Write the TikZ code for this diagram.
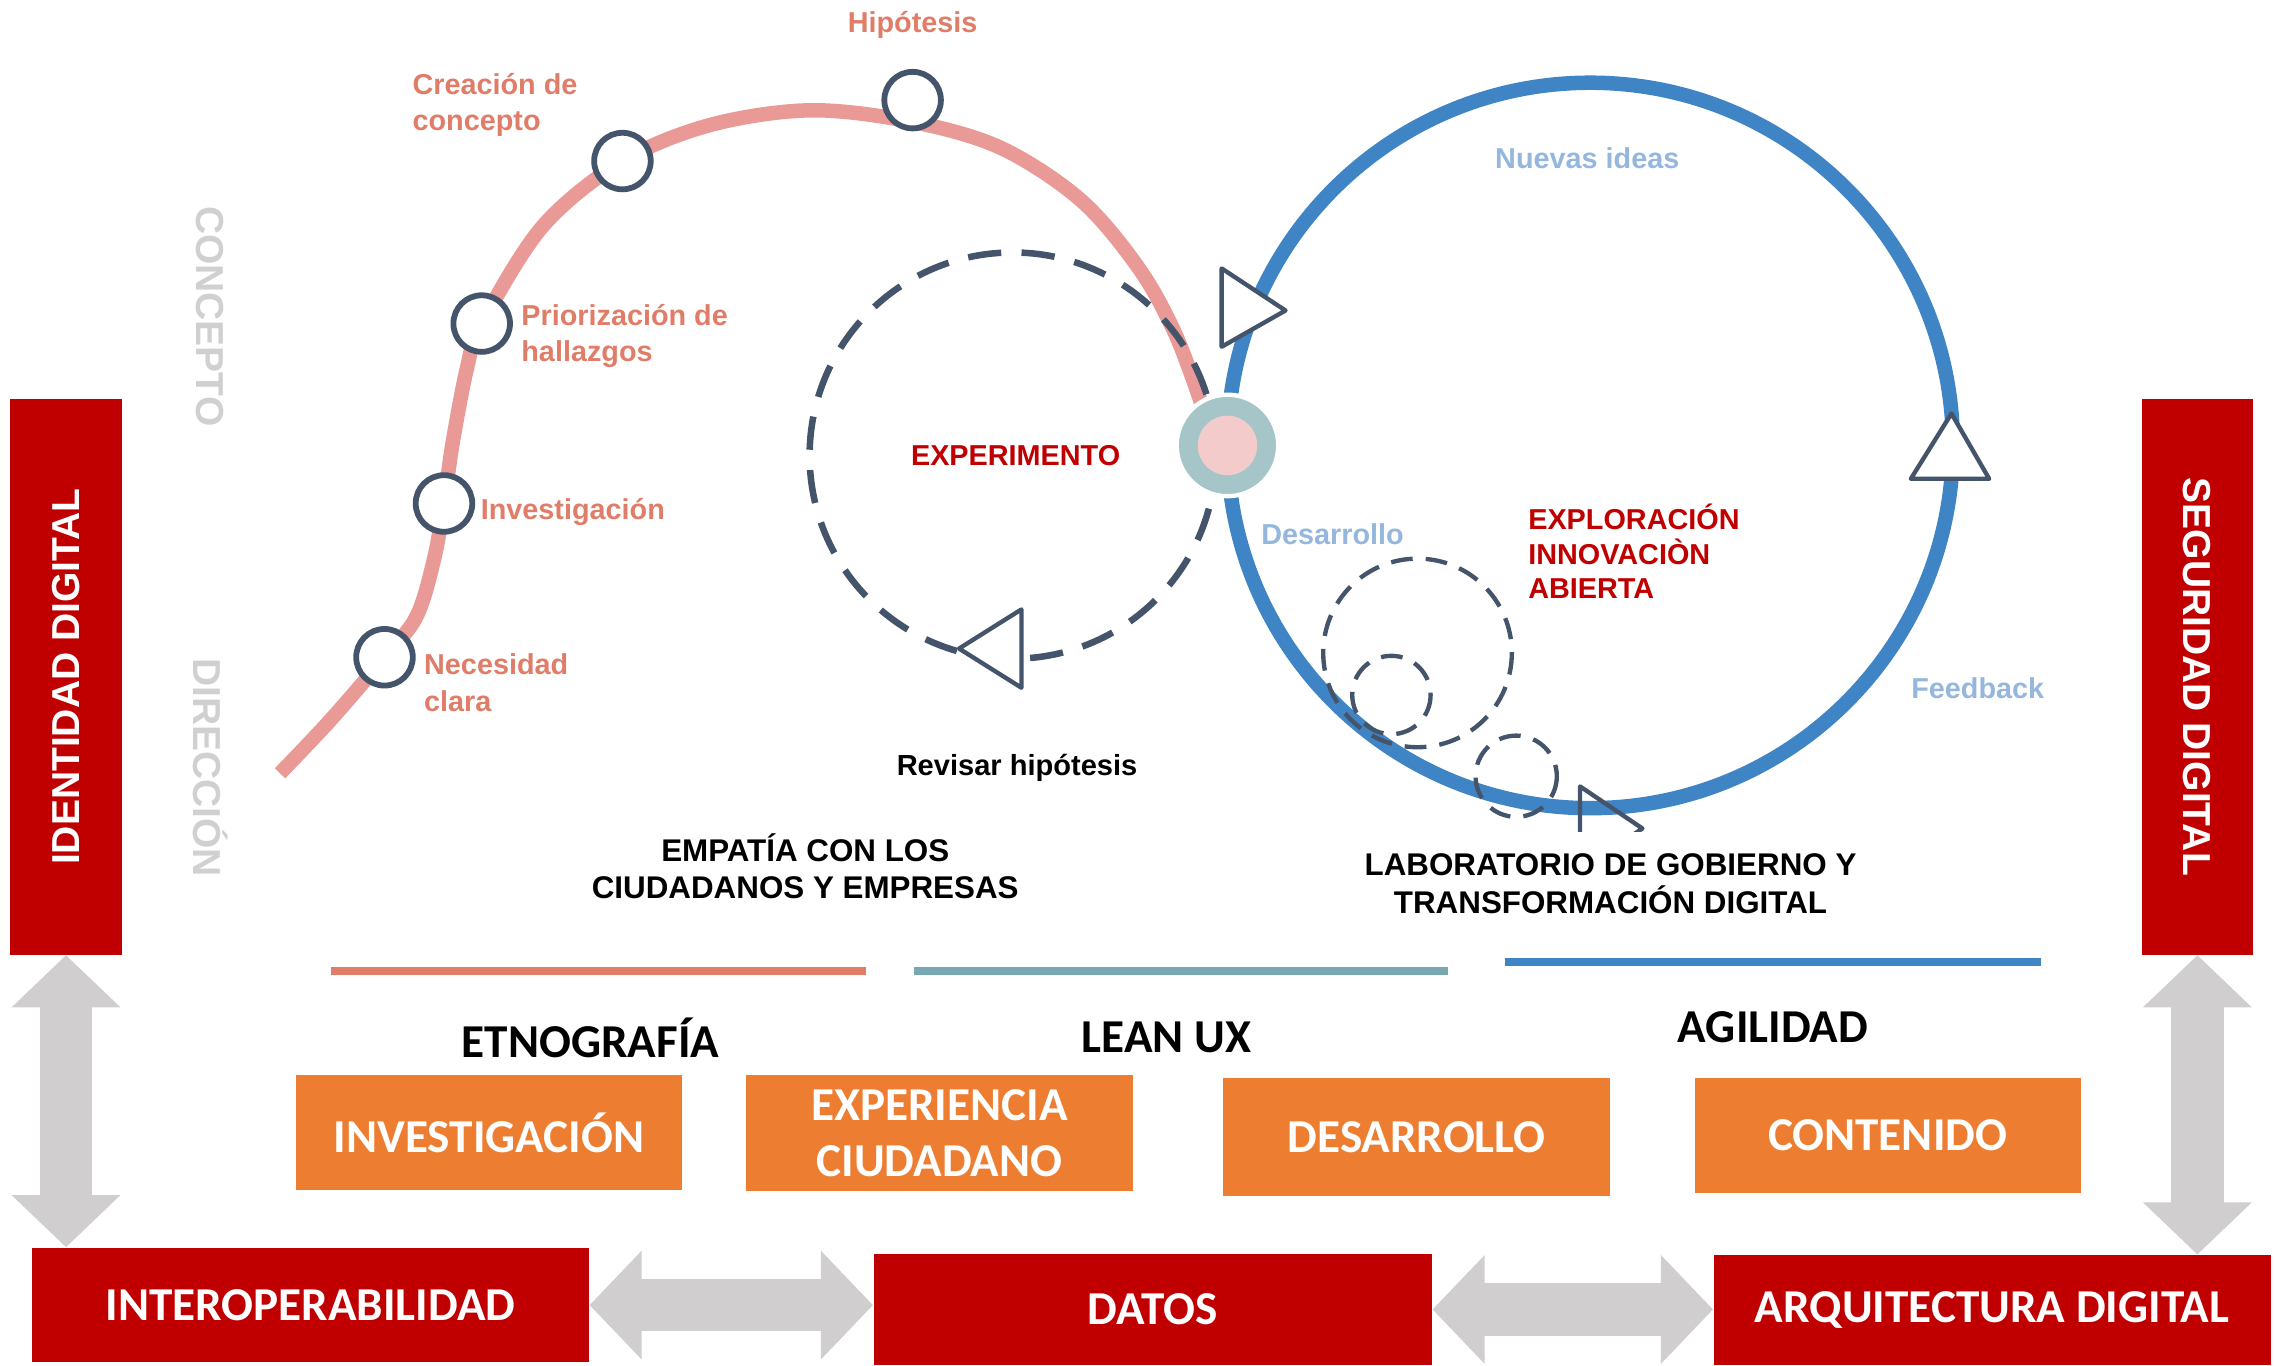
\documentclass[tikz,border=0pt]{standalone}
\usepackage{fontspec}
\setmainfont{Liberation Sans}
\newfontfamily\calib{Carlito}
\usetikzlibrary{arrows.meta}

\definecolor{rojo}{HTML}{C00000}
\definecolor{naranja}{HTML}{ED7D31}
\definecolor{gris}{HTML}{D0CECE}
\definecolor{grisclaro}{HTML}{D0D0D0}
\definecolor{salmon}{HTML}{E07D68}
\definecolor{rosa}{HTML}{E99A97}
\definecolor{azul}{HTML}{3F84C5}
\definecolor{azulclaro}{HTML}{95B7DD}
\definecolor{pizarra}{HTML}{44546A}
\definecolor{verdeazul}{HTML}{78A8B1}
\definecolor{nodoext}{HTML}{A6C5C8}
\definecolor{nodoint}{HTML}{F3CBCB}

\newcommand\fuente[2]{\fontsize{#1}{#2}\selectfont}

\tikzset{
  barra/.style={fill=rojo, text=white, font=\bfseries\fuente{15.3}{18}, inner sep=0},
  base/.style={fill=rojo, text=white, font=\calib\bfseries\fuente{18.5}{22}, inner sep=0},
  caja/.style={fill=naranja, text=white, font=\calib\bfseries\fuente{18.5}{22.1}, align=center, inner sep=0},
  seccion/.style={font=\calib\bfseries\fuente{18.5}{22}, inner sep=0},
  paso/.style={circle, draw=pizarra, fill=white, line width=0.08cm, minimum size=0.78cm, inner sep=0},
  etpaso/.style={text=salmon, font=\bfseries\fuente{11.3}{14.2}, align=left, inner sep=0},
  etazul/.style={text=azulclaro, font=\bfseries\fuente{11.3}{14}, inner sep=0},
  etrojo/.style={text=rojo, font=\bfseries\fuente{11.3}{13.6}, align=left, inner sep=0},
  etnegro/.style={font=\bfseries\fuente{12.3}{14.7}, align=center, inner sep=0},
  etgris/.style={text=grisclaro, font=\bfseries\fuente{15.3}{18}, rotate=-90, inner sep=0},
  flecha/.style={draw=gris, line width=0.72cm, {Triangle[length=0.72cm,width=1.46cm]}-{Triangle[length=0.72cm,width=1.46cm]}},
  punta/.style={draw=pizarra, fill=white, line width=0.06cm, line join=round},
  discont/.style={draw=pizarra, line width=0.09cm, dash pattern=on 0.46cm off 0.28cm},
  discontfino/.style={draw=pizarra, line width=0.06cm, dash pattern=on 0.3cm off 0.18cm},
}

\begin{document}
\begin{tikzpicture}[x=0.02cm, y=-0.02cm]
\useasboundingbox (0,0) rectangle (1568,941);

\draw[rosa, line width=0.2cm] plot[smooth, tension=0.55] coordinates {(193,533) (228,496) (265,453) (287,425) (299,386) (306,347) (312,305) (322,253) (332,223) (374,156) (429,111) (490,86) (559,76) (629,84) (690,102) (745,138) (785,185) (810,230) (828,278)};

\draw[azul, line width=0.2cm] (1096,307) circle[radius=250];

\draw[discont] (698,314) circle[radius=140];
\draw[discontfino] (977,450) circle[radius=65];
\draw[discontfino] (959,479) circle[radius=27];
\draw[discontfino] (1045,535) circle[radius=28];

\draw[punta] (842,185) -- (886,214) -- (842,239) -- cycle;
\draw[punta] (1317,330) -- (1371,330) -- (1345,285) -- cycle;
\draw[punta] (704,420) -- (661,447) -- (704,474) -- cycle;
\begin{scope}
\clip (1050,500) rectangle (1200,573);
\draw[punta, fill=none] (1089,542) -- (1132,571) -- (1089,600) -- cycle;
\end{scope}

\node[circle, fill=nodoext, draw=white, line width=0.06cm, minimum size=1.4cm, inner sep=0] (hub) at (846,307) {};
\node[circle, fill=nodoint, minimum size=0.82cm, inner sep=0] (hubint) at (hub) {};

\foreach \n/\x/\y in {nec/265/453, inv/306/347, pri/332/223, cre/429/111, hip/629/69}
  \node[paso] (\n) at (\x,\y) {};

\node[etpaso] (thip) at (629,17) {Hipótesis};
\node[etpaso, anchor=west] (tcre) at (284,72.5) {Creación de\\concepto};
\node[etpaso, anchor=west] (tpri) at (359,231.5) {Priorización de\\hallazgos};
\node[etpaso, anchor=west] (tinv) at (331,353) {Investigación};
\node[etpaso, anchor=west] (tnec) at (292,470.5) {Necesidad\\clara};

\node[etazul] (tnue) at (1094,109) {Nuevas ideas};
\node[etazul, anchor=west] (tdes) at (869,368) {Desarrollo};
\node[etazul, anchor=west] (tfee) at (1317,474) {Feedback};

\node[etrojo] (texp) at (700,314) {EXPERIMENTO};
\node[etrojo, anchor=west] (texplo) at (1053,380) {EXPLORACIÓN\\INNOVACIÒN\\ABIERTA};

\node[etnegro, font=\bfseries\fuente{11.4}{14}] (trev) at (701,529) {Revisar hipótesis};
\node[etnegro] (temp) at (555,597) {EMPATÍA CON LOS\\CIUDADANOS Y EMPRESAS};
\node[etnegro] (tlab) at (1110,609) {LABORATORIO DE GOBIERNO Y\\TRANSFORMACIÓN DIGITAL};

\node[etgris] (tcon) at (145,218) {CONCEPTO};
\node[etgris] (tdir) at (145,529) {DIRECCIÓN};

\draw[salmon, line width=0.11cm] (228,669) -- (597,669);
\draw[verdeazul, line width=0.11cm] (630,669) -- (998,669);
\draw[azul, line width=0.11cm] (1037,663) -- (1407,663);

\node[seccion] (etno) at (407,715) {ETNOGRAFÍA};
\node[seccion] (lean) at (804,715) {LEAN UX};
\node[seccion] (agil) at (1222,708) {AGILIDAD};

\node[caja, minimum width=5.32cm, minimum height=1.58cm] (invest) at (337,780.5) {INVESTIGACIÓN};
\node[caja, minimum width=5.34cm, minimum height=1.6cm] (exper) at (647.5,781) {EXPERIENCIA\\CIUDADANO};
\node[caja, minimum width=5.34cm, minimum height=1.62cm] (desa) at (976.5,783.5) {DESARROLLO};
\node[caja, minimum width=5.32cm, minimum height=1.58cm] (cont) at (1301,782.5) {CONTENIDO};

\node[barra, minimum width=1.54cm, minimum height=7.66cm] (ident) at (45.5,466.5) {\rotatebox{90}{IDENTIDAD DIGITAL}};
\node[barra, minimum width=1.54cm, minimum height=7.66cm] (seg) at (1514.5,466.5) {\rotatebox{-90}{SEGURIDAD DIGITAL}};

\node[base, minimum width=7.68cm, minimum height=1.58cm] (inter) at (214,899.5) {INTEROPERABILIDAD};
\node[base, minimum width=7.7cm, minimum height=1.54cm] (datos) at (794.5,902.5) {DATOS};
\node[base, minimum width=7.68cm, minimum height=1.52cm] (arq) at (1373,903) {ARQUITECTURA DIGITAL};

\draw[flecha] (ident.south) -- (ident.south |- inter.north);
\draw[flecha] (seg.south) -- (seg.south |- arq.north);
\draw[flecha] (inter.east) -- (inter.east -| datos.west);
\draw[flecha] (datos.east) -- (datos.east -| arq.west);
\end{tikzpicture}
\end{document}
